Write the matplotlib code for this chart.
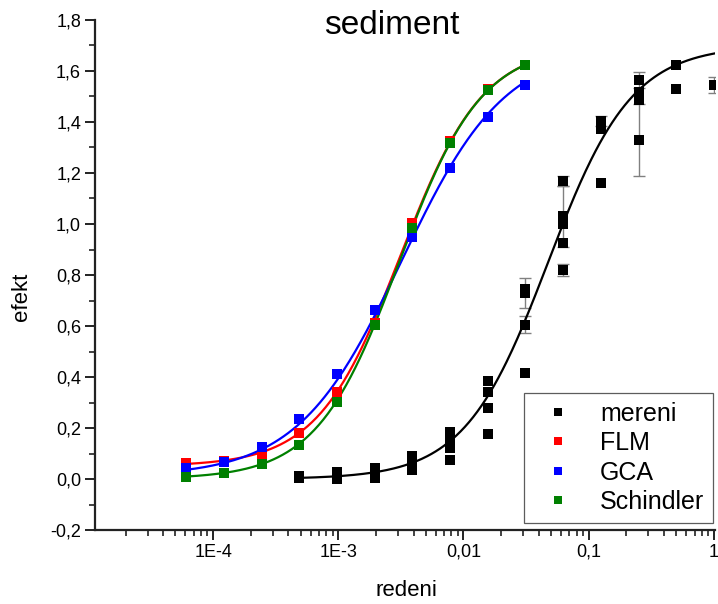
import numpy as np
import matplotlib
matplotlib.use("Agg")
import matplotlib.pyplot as plt
from matplotlib.ticker import FixedLocator, LogLocator, NullFormatter, MultipleLocator

plt.rcParams["font.family"] = ["Liberation Sans", "DejaVu Sans"]

# dilution levels of the model series (2^-14 .. 2^-5)
model_x = [0.000061, 0.000122, 0.000244, 0.000488, 0.000977,
           0.00195, 0.00391, 0.00781, 0.0156, 0.03125]
flm_y = [0.061, 0.070, 0.098, 0.180, 0.342, 0.610, 1.004, 1.325, 1.530, 1.624]
gca_y = [0.042, 0.068, 0.124, 0.234, 0.410, 0.663, 0.948, 1.218, 1.418, 1.545]
schindler_y = [0.009, 0.025, 0.058, 0.133, 0.303, 0.604, 0.984, 1.319, 1.525, 1.624]

# measured replicates
mereni_x = [0.000488, 0.000488,
            0.000977, 0.000977, 0.000977,
            0.00195, 0.00195, 0.00195,
            0.00391, 0.00391, 0.00391,
            0.00781, 0.00781, 0.00781, 0.00781,
            0.0156, 0.0156, 0.0156, 0.0156,
            0.03125, 0.03125, 0.03125, 0.03125,
            0.0625, 0.0625, 0.0625, 0.0625, 0.0625,
            0.125, 0.125, 0.125,
            0.25, 0.25, 0.25, 0.25,
            0.5, 0.5,
            1.0]
mereni_y = [0.005, 0.012,
            0.000, 0.015, 0.028,
            0.005, 0.025, 0.045,
            0.035, 0.060, 0.090,
            0.075, 0.120, 0.150, 0.185,
            0.175, 0.280, 0.340, 0.385,
            0.415, 0.605, 0.730, 0.745,
            0.820, 0.925, 1.000, 1.030, 1.170,
            1.160, 1.373, 1.404,
            1.330, 1.486, 1.518, 1.565,
            1.530, 1.624,
            1.545]
mereni_err = [0, 0,
              0, 0, 0,
              0, 0, 0,
              0, 0, 0,
              0, 0, 0, 0,
              0, 0, 0, 0,
              0, 0.034, 0.06, 0,
              0.025, 0, 0, 0.12, 0.02,
              0, 0, 0.02,
              0.14, 0, 0, 0.03,
              0, 0,
              0.03]

# logistic fit parameters (A1, A2, x0, p)
fit_mereni = (0.0, 1.70, 0.0474, 1.30)
fit_flm = (0.05, 1.70, 0.00313, 1.32)
fit_gca = (0.01, 1.70, 0.0032, 1.05)
fit_schindler = (0.0, 1.70, 0.00306, 1.32)

yticks = [-0.2, 0.0, 0.2, 0.4, 0.6, 0.8, 1.0, 1.2, 1.4, 1.6, 1.8]
ytick_labels = ["-0,2", "0,0", "0,2", "0,4", "0,6", "0,8", "1,0", "1,2", "1,4", "1,6", "1,8"]
xticks = [1e-4, 1e-3, 1e-2, 1e-1, 1]
xtick_labels = ["1E-4", "1E-3", "0,01", "0,1", "1"]


def logistic(x, params):
    a1, a2, x0, p = params
    return a2 + (a1 - a2) / (1 + (x / x0) ** p)


fig = plt.figure(figsize=(7.18, 6.04), dpi=100)
ax = fig.add_axes([0.1323, 0.1225, 0.8635, 0.8444])

# fitted curves
xm = np.logspace(np.log10(model_x[0]), np.log10(model_x[-1]), 300)
xs = np.logspace(np.log10(mereni_x[0]), 0.01, 300)
ax.plot(xs, logistic(xs, fit_mereni), color="black", lw=1.6, zorder=3)
ax.plot(xm, logistic(xm, fit_flm), color="#ff0000", lw=1.6, zorder=3)
ax.plot(xm, logistic(xm, fit_gca), color="#0000ff", lw=1.6, zorder=3)
ax.plot(xm, logistic(xm, fit_schindler), color="#008000", lw=1.6, zorder=3)

# error bars + points
ex = [x for x, e in zip(mereni_x, mereni_err) if e > 0]
ey = [y for y, e in zip(mereni_y, mereni_err) if e > 0]
ee = [e for e in mereni_err if e > 0]
ax.errorbar(ex, ey, yerr=ee, fmt="none", ecolor="#808080", elinewidth=1.0,
            capsize=4, capthick=1.0, zorder=2)

ms = 7.3
ax.plot(mereni_x, mereni_y, "s", color="black", ms=ms, mew=0, label="mereni", zorder=4)
ax.plot(model_x, flm_y, "s", color="#ff0000", ms=ms, mew=0, label="FLM", zorder=4)
ax.plot(model_x, gca_y, "s", color="#0000ff", ms=ms, mew=0, label="GCA", zorder=4)
ax.plot(model_x, schindler_y, "s", color="#008000", ms=ms, mew=0, label="Schindler", zorder=5)

ax.set_xscale("log")
ax.set_xlim(1.14e-5, 1.02)
ax.set_ylim(-0.2, 1.8)

ax.xaxis.set_major_locator(FixedLocator(xticks))
ax.set_xticklabels(xtick_labels)
ax.xaxis.set_minor_locator(LogLocator(base=10, subs=np.arange(2, 10), numticks=20))
ax.xaxis.set_minor_formatter(NullFormatter())
ax.yaxis.set_major_locator(FixedLocator(yticks))
ax.set_yticklabels(ytick_labels)
ax.yaxis.set_minor_locator(MultipleLocator(0.1))

for side in ("top", "right"):
    ax.spines[side].set_visible(False)
for side in ("left", "bottom"):
    ax.spines[side].set_linewidth(1.6)
    ax.spines[side].set_color("#222222")

ax.tick_params(which="major", direction="out", length=7, width=1.4, labelsize=13,
               color="#222222", pad=3)
ax.tick_params(which="minor", direction="out", length=4, width=1.2, color="#222222")

leg = ax.legend(loc="lower right", bbox_to_anchor=(0.997, 0.014), borderaxespad=0,
                fontsize=18, markerscale=0.75, frameon=True, fancybox=False,
                edgecolor="#333333", handletextpad=0.7, labelspacing=0.22,
                borderpad=0.35, handlelength=2.0)
leg.get_frame().set_linewidth(0.9)

fig.text(0.546, 1 - 25 / 604, "sediment", fontsize=24, ha="center", va="center")
fig.text(21 / 718, 1 - 297 / 604, "efekt", fontsize=16, rotation=90, ha="center", va="center")
fig.text(406 / 718, 1 - 591 / 604, "redeni", fontsize=16, ha="center", va="center")

fig.savefig("out.png", dpi=100)
